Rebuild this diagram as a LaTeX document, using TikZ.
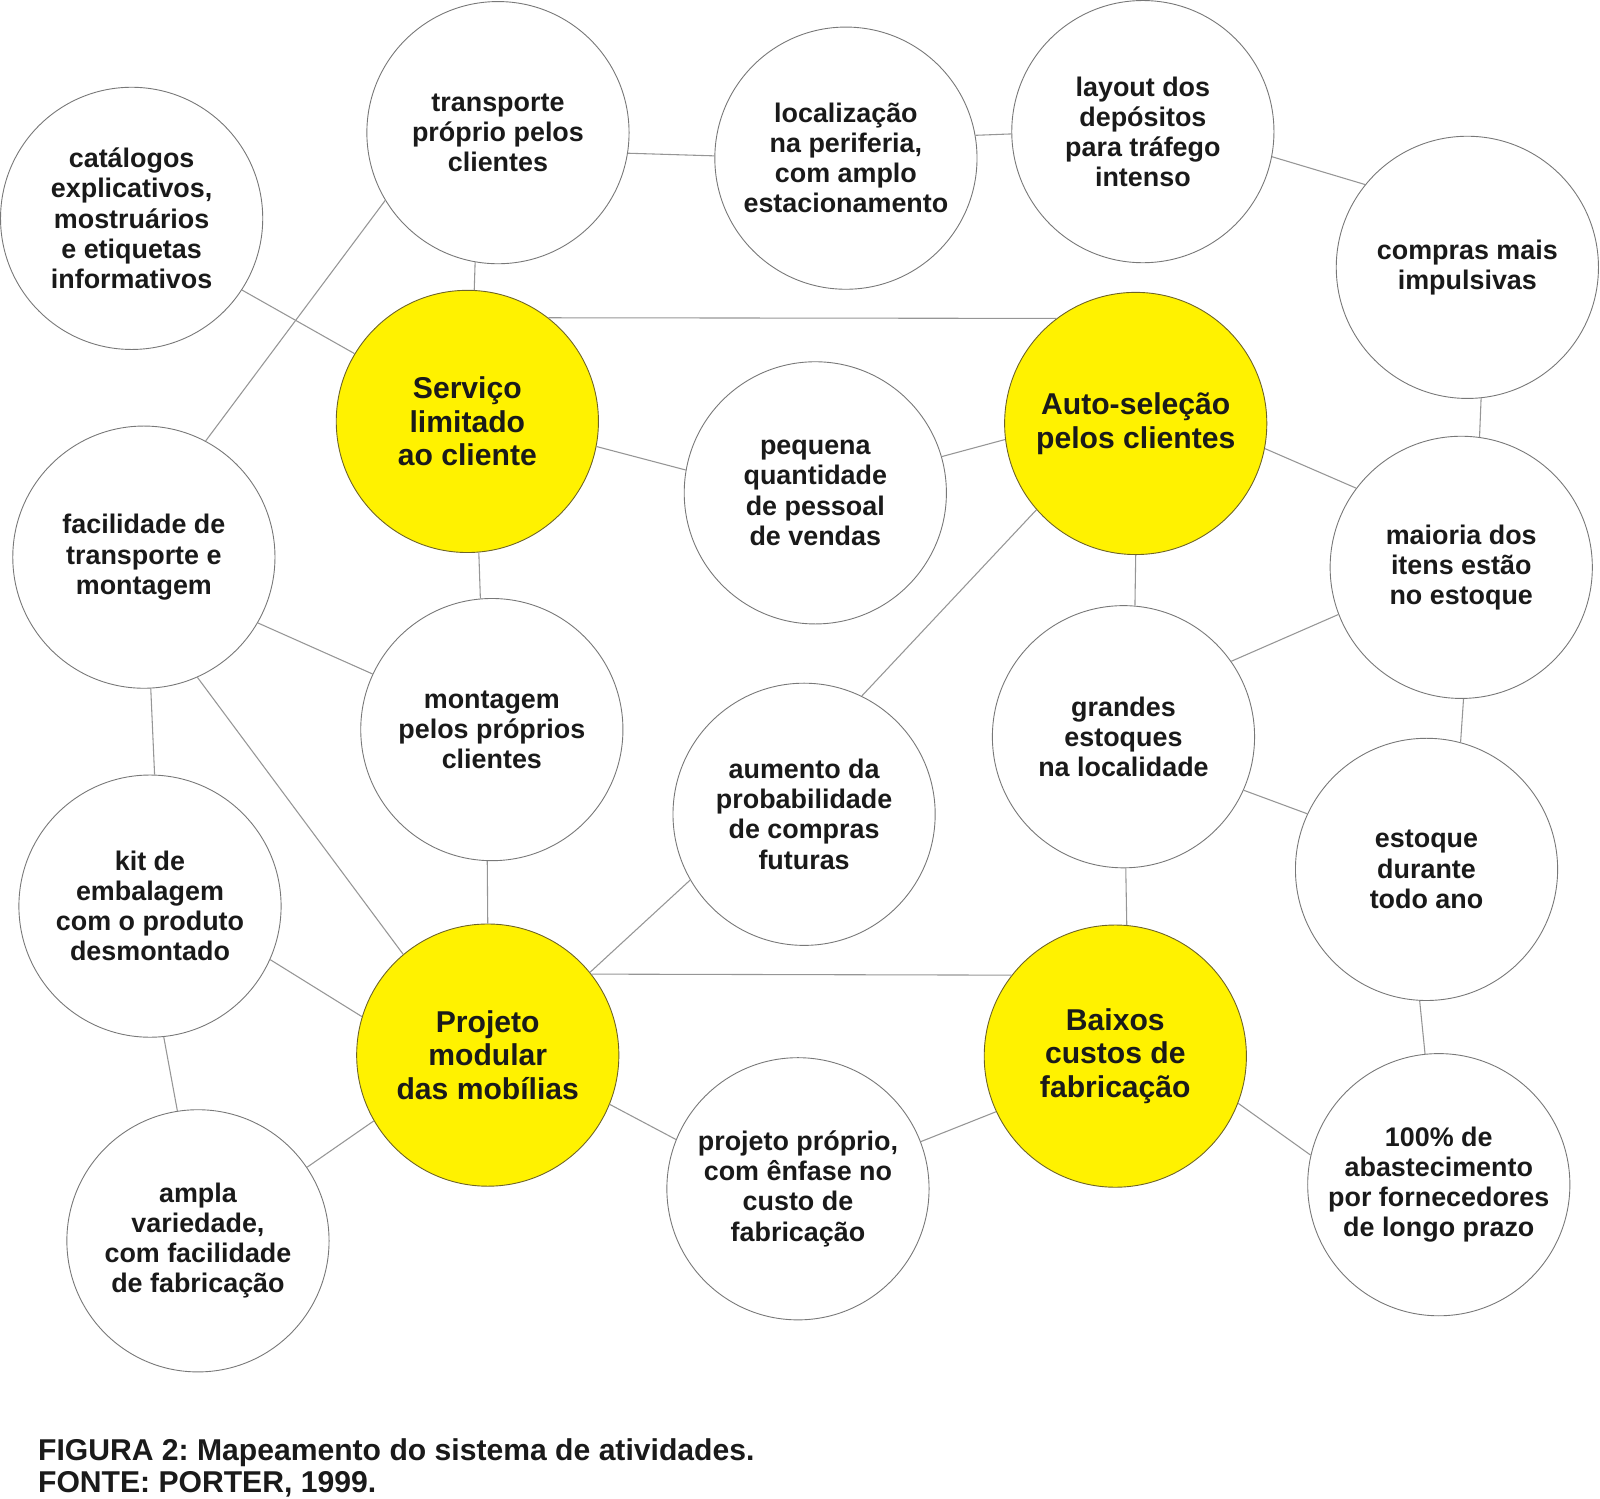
\documentclass[tikz,border=0pt]{standalone}
\usepackage{fontspec}
\setmainfont{Liberation Sans}
\usepackage{tikz}
\usetikzlibrary{positioning}
\frenchspacing
\definecolor{rimgrey}{RGB}{120,120,120}
\definecolor{linkgrey}{RGB}{150,150,150}
\definecolor{coreyellow}{RGB}{255,242,0}
\definecolor{corerim}{RGB}{110,100,40}
\definecolor{inkblack}{RGB}{26,26,26}
\tikzset{
  activity/.style={circle,draw=rimgrey,line width=0.5pt,fill=white,
    minimum size=5.14cm,inner sep=0pt,align=center,text=inkblack,
    font=\fontsize{15}{16.8}\selectfont\bfseries},
  keyactivity/.style={activity,draw=corerim,fill=coreyellow,
    font=\fontsize{16.8}{18.8}\selectfont\bfseries},
  link/.style={draw=linkgrey,line width=0.6pt},
  figcaption/.style={align=left,inner sep=0pt,text=inkblack,
    font=\fontsize{16.8}{17.6}\selectfont\bfseries}
}

\begin{document}
\begin{tikzpicture}[x=0.02cm,y=-0.02cm]
  \useasboundingbox (0,0) rectangle (1568,1469);
  \node[activity] (cat) at (129,214)
    {catálogos\\explicativos,\\mostruários\\e etiquetas\\informativos};
  \node[activity] (transp) at (488,130) {transporte\\próprio pelos\\clientes};
  \node[activity] (local) at (829,155)
    {localização\\na periferia,\\com amplo\\estacionamento};
  \node[activity] (layout) at (1120,129)
    {layout dos\\depósitos\\para tráfego\\intenso};
  \node[activity] (compras) at (1438,262) {compras mais\\impulsivas};
  \node[keyactivity] (servico) at (458,413) {Serviço\\limitado\\ao cliente};
  \node[activity] (pequena) at (799,483)
    {pequena\\quantidade\\de pessoal\\de vendas};
  \node[keyactivity] (autosel) at (1113,415) {Auto-seleção\\pelos clientes};
  \node[activity] (facil) at (141,546) {facilidade de\\transporte e\\montagem};
  \node[activity] (maioria) at (1432,556) {maioria dos\\itens estão\\no estoque};
  \node[activity] (montagem) at (482,715)
    {montagem\\pelos próprios\\clientes};
  \node[activity] (aumento) at (788,798)
    {aumento da\\probabilidade\\de compras\\futuras};
  \node[activity] (grandes) at (1101,722) {grandes\\estoques\\na localidade};
  \node[activity] (estoque) at (1398,852) {estoque\\durante\\todo ano};
  \node[activity] (kit) at (147,888)
    {kit de\\embalagem\\com o produto\\desmontado};
  \node[keyactivity] (projeto) at (478,1034) {Projeto\\modular\\das mobílias};
  \node[keyactivity] (baixos) at (1093,1035) {Baixos\\custos de\\fabricação};
  \node[activity] (proprio) at (782,1165)
    {projeto próprio,\\com ênfase no\\custo de\\fabricação};
  \node[activity] (ampla) at (194,1216)
    {ampla\\variedade,\\com facilidade\\de fabricação};
  \node[activity] (abastec) at (1410,1161)
    {100\% de\\abastecimento\\por fornecedores\\de longo prazo};

  \draw[link] (cat.-33) -- (servico.149);
  \draw[link] (transp.-100) -- (servico.87);
  \draw[link] (transp.-9) -- (local.179);
  \draw[link] (facil.62) -- (transp.-149);
  \draw[link] (local.10) -- (layout.-179);
  \draw[link] (layout.-11) -- (compras.141);
  \draw[link] (servico.52) -- (autosel.127);
  \draw[link] (servico.-11) -- (pequena.170);
  \draw[link] (pequena.16) -- (autosel.-173);
  \draw[link] (autosel.-11) -- (maioria.143);
  \draw[link] (compras.-84) -- (maioria.82);
  \draw[link] (servico.-85) -- (montagem.95);
  \draw[link] (facil.-30) -- (montagem.155);
  \draw[link] (facil.-87) -- (kit.88);
  \draw[link] (facil.-66) -- (projeto.130);
  \draw[link] (autosel.-90) -- (grandes.85);
  \draw[link] (autosel.-139) -- (aumento.64);
  \draw[link] (maioria.-159) -- (grandes.35);
  \draw[link] (maioria.-89) -- (estoque.75);
  \draw[link] (grandes.-24) -- (estoque.155);
  \draw[link] (grandes.-89) -- (baixos.85);
  \draw[link] (montagem.-92) -- (projeto.90);
  \draw[link] (aumento.-150) -- (projeto.39);
  \draw[link] (projeto.38) -- (baixos.142);
  \draw[link] (kit.-24) -- (projeto.163);
  \draw[link] (kit.-84) -- (ampla.99);
  \draw[link] (projeto.-150) -- (ampla.34);
  \draw[link] (projeto.-22) -- (proprio.158);
  \draw[link] (proprio.21) -- (baixos.-155);
  \draw[link] (estoque.-93) -- (abastec.96);
  \draw[link] (baixos.-21) -- (abastec.167);

  \node[figcaption,anchor=north west] (legenda) at (37,1410)
    {FIGURA 2: Mapeamento do sistema de atividades.\\FONTE: PORTER, 1999.};
\end{tikzpicture}
\end{document}
